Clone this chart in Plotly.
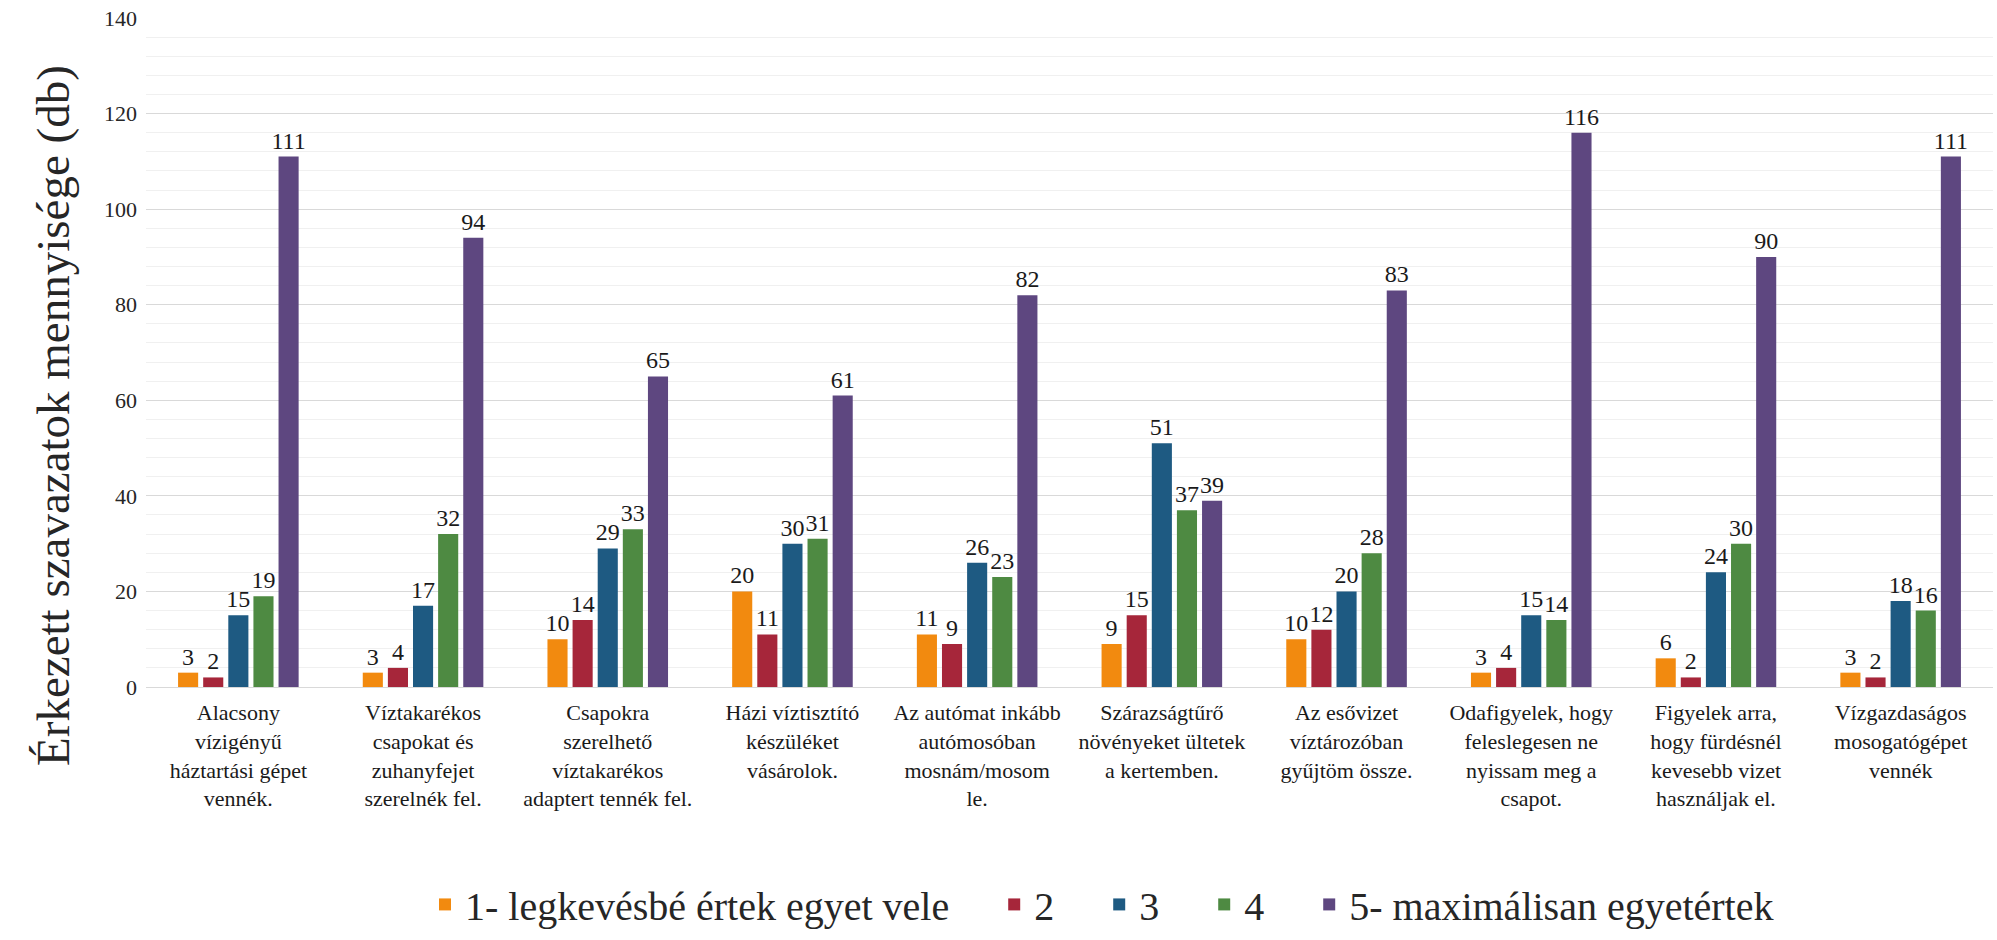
import plotly.graph_objects as go

categories = [
    "Alacsony<br>vízigényű<br>háztartási gépet<br>vennék.",
    "Víztakarékos<br>csapokat és<br>zuhanyfejet<br>szerelnék fel.",
    "Csapokra<br>szerelhető<br>víztakarékos<br>adaptert tennék fel.",
    "Házi víztisztító<br>készüléket<br>vásárolok.",
    "Az autómat inkább<br>autómosóban<br>mosnám/mosom<br>le.",
    "Szárazságtűrő<br>növényeket ültetek<br>a kertemben.",
    "Az esővizet<br>víztározóban<br>gyűjtöm össze.",
    "Odafigyelek, hogy<br>feleslegesen ne<br>nyissam meg a<br>csapot.",
    "Figyelek arra,<br>hogy fürdésnél<br>kevesebb vizet<br>használjak el.",
    "Vízgazdaságos<br>mosogatógépet<br>vennék",
]

series_names = ["1- legkevésbé értek egyet vele", "2", "3", "4", "5- maximálisan egyetértek"]

s1 = [3, 3, 10, 20, 11, 9, 10, 3, 6, 3]
s2 = [2, 4, 14, 11, 9, 15, 12, 4, 2, 2]
s3 = [15, 17, 29, 30, 26, 51, 20, 15, 24, 18]
s4 = [19, 32, 33, 31, 23, 37, 28, 14, 30, 16]
s5 = [111, 94, 65, 61, 82, 39, 83, 116, 90, 111]

y_title = "Érkezett szavazatok mennyisége (db)"

colors = ["#F28A0F", "#A6263A", "#1E5A82", "#4E8A42", "#5E4780"]

FONT = "Liberation Serif, Times New Roman, serif"
PAD = "\u00a0" * 4

fig = go.Figure()
for i, (name, vals, col) in enumerate(zip(series_names, [s1, s2, s3, s4, s5], colors)):
    fig.add_trace(go.Bar(
        x=categories, y=vals, name=name + (PAD if i < 4 else ""),
        marker=dict(color=col, line=dict(width=0)),
        text=[str(v) for v in vals], textposition="outside",
        textfont=dict(family=FONT, size=24, color="#1a1a1a"),
        constraintext="none", cliponaxis=False,
    ))

fig.update_layout(
    width=1997, height=940,
    margin=dict(l=146, r=4, t=18, b=253, autoexpand=False),
    paper_bgcolor="white", plot_bgcolor="white",
    barmode="group", bargap=0.32, bargroupgap=0.2,
    font=dict(family=FONT, color="#262626"),
    legend=dict(
        orientation="h", x=0.5176, xanchor="center", y=-0.325, yanchor="middle",
        font=dict(family=FONT, size=40, color="#262626"),
        itemwidth=30, traceorder="normal",
    ),
    yaxis=dict(
        range=[0, 140], dtick=20, showgrid=True, gridcolor="#D9D9D9", gridwidth=1,
        minor=dict(dtick=4, showgrid=True, gridcolor="#F0F0F0", gridwidth=1),
        zeroline=False, showline=False,
        tickfont=dict(family=FONT, size=22, color="#262626"),
        ticklabelstandoff=8,
    ),
    xaxis=dict(
        showline=True, linecolor="#D9D9D9", linewidth=1,
        tickfont=dict(family=FONT, size=22, color="#1a1a1a"),
        tickangle=0, ticklabelstandoff=6,
    ),
    annotations=[dict(
        text=y_title, textangle=-90, xref="paper", yref="paper",
        x=-0.0504, y=0.4066, xanchor="center", yanchor="middle",
        showarrow=False, font=dict(family=FONT, size=47, color="#262626"),
    )],
)

fig.write_html("out.html")
